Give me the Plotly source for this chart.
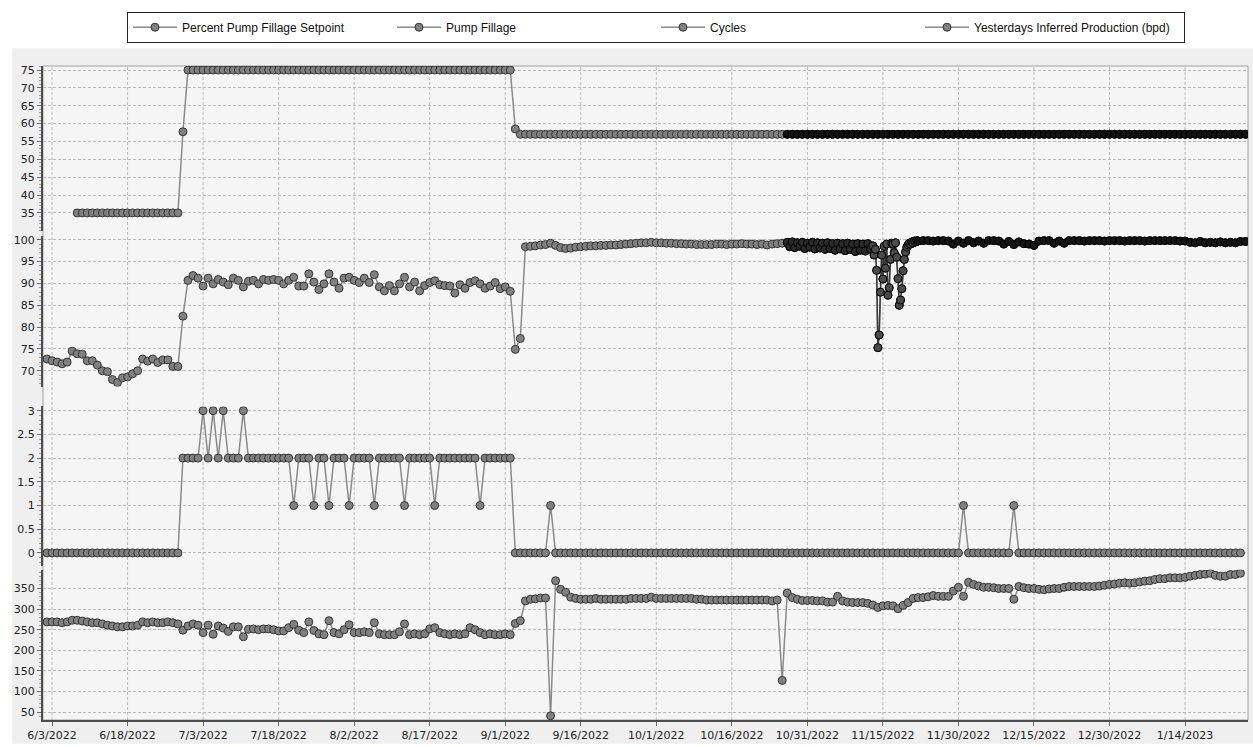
import pandas as pd
import plotly.graph_objects as go

# ---------------- data ----------------
days = pd.date_range("2022-06-02", periods=239, freq="D")  # 6/2/2022 .. 1/26/2023

# Percent Pump Fillage Setpoint: daily 6/8 .. 10/26, then dense logging 10/27 .. 1/26
setpoint_sparse = [35] * 21 + [57.7] + [75] * 65 + [58.5] + [57] * 53
setpoint_dense = [57] * 92

# Pump Fillage: daily 6/2 .. 10/26
fillage_sparse = [
    72.7, 72.3, 72.0, 71.6, 72.0, 74.5, 73.9, 73.8, 72.3, 72.3,
    71.3, 70.0, 69.8, 68.0, 67.3, 68.4, 68.6, 69.3, 70.0, 72.7,
    72.2, 72.7, 71.9, 72.5, 72.5, 71.0, 71.0, 82.5,
    90.7, 91.8, 91.2, 89.4, 91.2, 89.9, 90.9, 90.3, 89.7, 91.2,
    90.7, 89.2, 90.5, 90.7, 89.9, 90.9, 90.7, 90.9, 90.7, 89.9,
    90.7, 91.4, 89.4, 89.4, 92.2, 90.3, 88.6, 89.9, 92.2, 90.3,
    88.9, 91.2, 91.4, 90.7, 90.2, 91.2, 90.2, 92.0, 89.2, 88.3,
    89.5, 88.3, 89.9, 91.4, 89.2, 90.3, 88.3, 89.5, 90.2, 90.6,
    89.7, 89.5, 89.4, 87.8, 89.7, 88.9, 90.2, 90.6, 89.9, 88.9,
    89.4, 90.2, 88.8, 89.2, 88.2,
    74.9, 77.4,
    98.4, 98.5, 98.6, 98.8, 98.9, 99.2, 98.7, 98.2, 98.0, 98.1,
    98.3, 98.4, 98.5, 98.6, 98.6, 98.7, 98.7, 98.8, 98.8, 98.9,
    99.0, 99.1, 99.2, 99.3, 99.3, 99.4, 99.3, 99.3, 99.2, 99.2,
    99.1, 99.1, 99.0, 99.0, 98.9, 98.9, 98.9, 98.9, 99.0, 99.0,
    98.9, 99.0, 99.0, 99.1, 99.0, 99.0, 98.9, 99.0, 98.8, 99.0,
    99.1, 99.2,
]
# Pump Fillage dense logging: 12-hourly 10/27 .. 11/12
fillage_dense_a = [
    99.4, 98.4, 99.5, 98.2, 99.3, 98.5, 99.4, 98.0, 99.2, 98.3,
    99.4, 97.9, 99.3, 98.1, 99.2, 97.8, 99.3, 98.0, 99.1, 97.6,
    99.2, 97.9, 99.1, 97.5, 99.2, 97.8, 99.0, 97.3, 99.1, 97.6,
    99.0, 97.4, 99.1, 97.8,
]
# 6-hourly 11/13 .. 11/21
fillage_dense_b = [
    98.6, 96.5, 97.8, 93.0, 75.3, 78.2, 88.0, 96.5, 91.0, 98.5,
    93.5, 99.0, 87.3, 89.0, 95.5, 99.2, 99.0, 97.0, 99.3, 96.0,
    91.1, 85.0, 86.2, 88.8, 92.9, 95.5, 97.2, 98.3, 98.8, 99.2,
    99.0, 99.5, 99.3, 99.7, 99.5, 99.8,
]
# daily 11/22 .. 1/26
fillage_dense_c = [
    99.7, 99.8, 99.8, 99.7, 99.8, 99.8, 99.7, 99.0, 99.7, 99.2,
    99.8, 99.3, 99.7, 99.2, 99.8, 99.8, 99.7, 99.0, 99.6, 98.9,
    99.5, 99.1, 99.0, 98.7, 99.7, 99.8, 99.8, 99.2, 99.7, 99.2,
    99.8, 99.8, 99.8, 99.7, 99.8, 99.8, 99.8, 99.7, 99.8, 99.8,
    99.8, 99.7, 99.8, 99.8, 99.8, 99.7, 99.8, 99.8, 99.8, 99.8,
    99.8, 99.8, 99.7, 99.7, 99.4, 99.3, 99.6, 99.3, 99.4, 99.3,
    99.5, 99.3, 99.4, 99.3, 99.6, 99.6,
]

# Cycles: daily 6/2 .. 1/25
cycles = (
    [0] * 27
    + [2, 2, 2, 2, 3, 2, 3, 2, 3, 2, 2, 2, 3, 2]
    + [2] * 8 + [1] + [2, 2, 2] + [1] + [2, 2] + [1] + [2, 2, 2] + [1]
    + [2, 2, 2, 2] + [1] + [2] * 5 + [1] + [2] * 5 + [1] + [2] * 8 + [1]
    + [2] * 6
    + [0] * 7 + [1] + [0] * 81 + [1] + [0] * 9 + [1] + [0] * 45
)

# Yesterdays Inferred Production (bpd): daily 6/2 .. 1/25
production = [
    269, 269, 269, 267, 269, 273, 273, 271, 269, 267,
    267, 264, 261, 259, 257, 257, 259, 259, 261, 269,
    267, 269, 267, 267, 269, 267, 264, 249, 259, 264,
    261, 243, 261, 239, 259, 254, 246, 257, 257, 233,
    251, 252, 250, 252, 252, 250, 247, 247, 255, 263,
    249, 243, 269, 248, 240, 238, 272, 243, 240, 250,
    262, 243, 243, 245, 243, 267, 240, 238, 238, 238,
    245, 264, 238, 240, 238, 240, 252, 255, 243, 240,
    238, 240, 238, 240, 255, 250, 243, 238, 240, 238,
    238, 240, 238, 265, 272, 320, 324, 325, 327, 327,
    41, 369, 348, 341, 329, 326, 324, 324, 324, 326,
    324, 324, 324, 324, 324, 324, 326, 326, 326, 326,
    329, 326, 326, 326, 326, 326, 326, 326, 326, 324,
    324, 322, 322, 322, 322, 322, 322, 322, 322, 322,
    322, 322, 322, 322, 320, 322, 127, 339, 328, 324,
    321, 321, 321, 320, 320, 317, 317, 331, 320, 317,
    316, 316, 316, 314, 310, 304, 308, 309, 308, 301,
    309, 316, 326, 328, 328, 330, 333, 331, 331, 331,
    344, 353, 331, 365, 360, 356, 353, 353, 352, 350,
    350, 350, 324, 355, 352, 350, 350, 348, 347, 349,
    350, 350, 353, 355, 355, 355, 355, 355, 355, 356,
    358, 360, 361, 363, 364, 363, 364, 366, 368, 369,
    372, 374, 374, 376, 376, 376, 377, 380, 382, 384,
    385, 387, 382, 380, 380, 384, 384, 387,
]

series_names = [
    "Percent Pump Fillage Setpoint",
    "Pump Fillage",
    "Cycles",
    "Yesterdays Inferred Production (bpd)",
]
x_tick_start = "2022-06-03"
x_range = ["2022-06-01 05:00", "2023-01-26 12:00"]

# ---------------- x positions ----------------
setpoint_x = list(days[6:147])
dense_x = list(days[147:239])
fillage_x = list(days[0:147])
dense_a_x = list(pd.date_range("2022-10-27", "2022-11-12 12:00", freq="12h"))
dense_b_x = list(pd.date_range("2022-11-13", "2022-11-21 18:00", freq="6h"))
dense_c_x = list(pd.date_range("2022-11-22", "2023-01-26", freq="D"))
fillage_dense_x = dense_a_x + dense_b_x + dense_c_x
fillage_dense = fillage_dense_a + fillage_dense_b + fillage_dense_c
daily_x = list(days[0:238])

# ---------------- styles ----------------
LINE = "#8a8a8a"
MK = "#808080"
MKL = "#353535"
FONT = "DejaVu Sans"
GRID = "#b9b9b9"


def main_trace(name, x, y, yaxis):
    return go.Scatter(
        name=name, x=x, y=y, yaxis=yaxis, mode="lines+markers",
        line=dict(color=LINE, width=1.5),
        marker=dict(size=8, color=MK, line=dict(color=MKL, width=1)),
        hoverinfo="skip",
    )


def dense_trace(x, y, yaxis, lw, fill, lc="#000000"):
    return go.Scatter(
        x=x, y=y, yaxis=yaxis, mode="lines+markers",
        line=dict(color=lc, width=lw),
        marker=dict(size=8, color=fill, line=dict(color="#000000", width=1)),
        showlegend=False, hoverinfo="skip")


fig = go.Figure()
fig.add_trace(main_trace(series_names[0], setpoint_x + dense_x,
                         setpoint_sparse + setpoint_dense, "y"))
fig.add_trace(main_trace(series_names[1], fillage_x + fillage_dense_x,
                         fillage_sparse + fillage_dense, "y2"))
fig.add_trace(main_trace(series_names[2], daily_x, cycles, "y3"))
fig.add_trace(main_trace(series_names[3], daily_x, production, "y4"))

# dense-logging overlays (many overlapping markers -> near-black band)
fig.add_trace(dense_trace(dense_x, setpoint_dense, "y", 6, "#111111"))
fig.add_trace(dense_trace(dense_a_x, fillage_dense_a, "y2", 2, "#2a2a2a"))
fig.add_trace(dense_trace(dense_b_x, fillage_dense_b, "y2", 1.5, "#4a4a4a",
                          lc="#3a3a3a"))
fig.add_trace(dense_trace(dense_c_x, fillage_dense_c, "y2", 6, "#151515"))

# background + vertical dashed grid as shapes (continuous through panel gaps)
shapes = [
    dict(type="rect", xref="paper", yref="paper", x0=-0.0257, x1=1.0041,
         y0=-0.0365, y1=1.027, fillcolor="#efefef", line=dict(width=0),
         layer="below"),
    dict(type="rect", xref="paper", yref="paper", x0=0, x1=1, y0=0, y1=1,
         fillcolor="#f5f5f5", line=dict(width=0), layer="below"),
]
for d in pd.date_range(x_tick_start, x_range[1], freq="15D"):
    ds = d.strftime("%Y-%m-%d")
    shapes.append(dict(type="line", xref="x", yref="paper", x0=ds, x1=ds,
                       y0=0, y1=1, layer="below",
                       line=dict(color=GRID, width=1, dash="3px,2px")))
shapes.append(dict(type="rect", xref="paper", yref="paper", x0=0, x1=1,
                   y0=0, y1=1, line=dict(color="#a0a0a0", width=1),
                   fillcolor="rgba(0,0,0,0)", layer="below"))


def yax(domain, rng, minor_dtick, **kw):
    d = dict(
        domain=domain, range=rng, anchor="x",
        showline=True, linecolor="#4d4d4d", linewidth=2,
        ticks="outside", ticklen=4, tickcolor="#6a6a6a",
        minor=dict(ticks="outside", ticklen=2, tickcolor="#9a9a9a",
                   dtick=minor_dtick, showgrid=False),
        showgrid=True, gridcolor=GRID, griddash="3px,2px", gridwidth=1,
        zeroline=False,
        tickfont=dict(family=FONT, size=11, color="#222222"),
        fixedrange=True,
    )
    d.update(kw)
    return d


fig.update_layout(
    width=1253, height=747, autosize=False,
    margin=dict(l=43, r=5, t=66, b=24),
    paper_bgcolor="#ffffff", plot_bgcolor="rgba(0,0,0,0)",
    hovermode=False,
    shapes=shapes,
    xaxis=dict(
        type="date", range=x_range, anchor="y4",
        tick0=x_tick_start, dtick=15 * 86400000, tickformat="%-m/%-d/%Y",
        showgrid=False, zeroline=False,
        showline=True, linecolor="#4d4d4d", linewidth=2,
        ticks="outside", ticklen=4, tickcolor="#6a6a6a",
        tickfont=dict(family=FONT, size=11, color="#222222"),
        fixedrange=True,
    ),
    yaxis=yax([0.7473, 1.0], [29.86, 76.12], 1,
              tickmode="array", tickvals=[35, 40, 45, 50, 55, 60, 65, 70, 75]),
    yaxis2=yax([0.5099, 0.7397], [66.4, 100.8], 1, tick0=0, dtick=5),
    yaxis3=yax([0.2359, 0.4795], [-0.27, 3.09], 0.1, tick0=0, dtick=0.5),
    yaxis4=yax([0.0, 0.2298], [30.8, 395.7], 10, tick0=0, dtick=50),
    showlegend=True,
    legend=dict(
        orientation="h", x=0.0697, xanchor="left", y=1.083, yanchor="top",
        bgcolor="#ffffff", bordercolor="#222222", borderwidth=1,
        font=dict(family="Liberation Sans", size=12, color="#111111"),
        itemwidth=44,
        entrywidth=205, entrywidthmode="pixels",
        itemclick=False, itemdoubleclick=False,
    ),
)

fig.write_html(
    "out.html",
    config={"displayModeBar": False},
    post_script="document.body.style.margin='0px';document.body.style.padding='0px';",
)
